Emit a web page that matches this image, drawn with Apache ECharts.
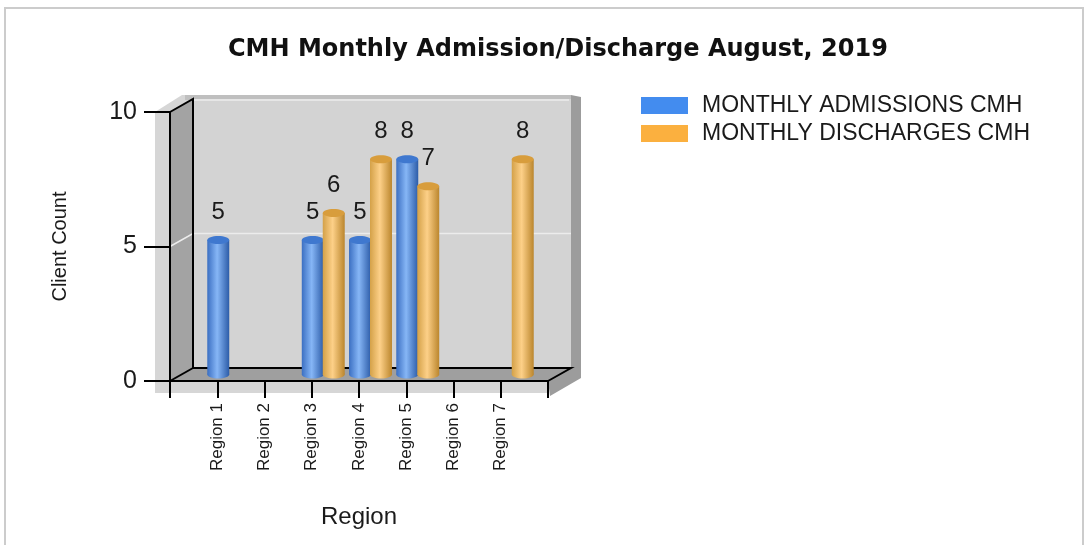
<!DOCTYPE html>
<html lang="en">
<head>
<meta charset="UTF-8">
<title>CMH Monthly Admission/Discharge</title>
<style type="text/css">
body,html{margin:0;padding:0;background:#fff;}
#container{width:1087px;height:545px;}
</style>
</head>
<body>
<div id="container"></div>
<script src="https://cdn.jsdelivr.net/npm/echarts@6/dist/echarts.min.js"></script>
<script type="text/javascript">
var regions = ['Region 1', 'Region 2', 'Region 3', 'Region 4', 'Region 5', 'Region 6', 'Region 7'];
var admissions = [5, 0, 5, 5, 8, 0, 0];
var discharges = [0, 0, 6, 8, 7, 0, 8];
var yTicks = [0, 5, 10];
var seriesNames = ['MONTHLY ADMISSIONS CMH', 'MONTHLY DISCHARGES CMH'];

// front plane of the 3d box, and its depth
var FL = 170, FR = 548, FT = 112, FB = 381;
var DX = 23, DY = -13;
var Y5F = (FT + FB) / 2, Y5B = Y5F + DY;
var font = 'Arial, "Liberation Sans", sans-serif';

// cylinder bar, side -1 = left of the category, +1 = right
function cylinder(colors, side) {
	return function (params, api) {
		var v = api.value(1);
		if (!v) return;
		var x = api.value(0);
		var top = api.coord([x, v]);
		var base = api.coord([x, 0]);
		var unit = api.size([1, 0])[0];
		var w = unit * 0.465;
		var cx = top[0] + side * unit * 0.222;
		var grad = new echarts.graphic.LinearGradient(0, 0, 1, 0, [
			{offset: 0, color: colors[0]},
			{offset: 0.45, color: colors[1]},
			{offset: 1, color: colors[2]}
		]);
		return {
			type: 'group',
			children: [
				{type: 'ellipse', shape: {cx: cx, cy: base[1], rx: w / 2, ry: 4}, style: {fill: grad}},
				{type: 'rect', shape: {x: cx - w / 2, y: top[1], width: w, height: base[1] - top[1]}, style: {fill: grad}},
				{type: 'ellipse', shape: {cx: cx, cy: top[1], rx: w / 2, ry: 4}, style: {fill: colors[3]}},
				{type: 'text', x: cx, y: top[1] - 28, style: {text: String(v), fill: '#1a1a1a', font: '24px ' + font, align: 'center', verticalAlign: 'middle'}}
			]
		};
	};
}

function pairs(arr) {
	return arr.map(function (v, i) { return [i + 1, v]; });
}

var line = {stroke: '#000', lineWidth: 2};
var option = {
	animation: false,
	backgroundColor: '#fff',
	title: {
		text: 'CMH Monthly Admission/Discharge August, 2019',
		left: 223,
		top: 33,
		textStyle: {fontFamily: 'DejaVu Sans', fontSize: 24, fontWeight: 'bold', color: '#111'}
	},
	legend: {
		orient: 'vertical',
		left: 636,
		top: 89,
		itemWidth: 47,
		itemHeight: 17,
		itemGap: 5,
		icon: 'rect',
		data: seriesNames,
		itemStyle: {borderWidth: 0},
		textStyle: {fontSize: 23, fontFamily: font, color: '#1a1a1a', padding: [0, 0, 0, 9]}
	},
	grid: [
		{left: FL, top: FT, width: FR - FL, height: FB - FT, outerBoundsMode: 'none'},
		{left: FL + DX / 2, top: FT + DY / 2, width: FR - FL, height: FB - FT, outerBoundsMode: 'none'}
	],
	xAxis: [{
		gridIndex: 0, type: 'value', min: 0, max: regions.length + 1, interval: 1, z: 5,
		axisLine: {show: true, onZero: false, lineStyle: {color: '#000', width: 2}},
		axisTick: {show: true, length: 17, lineStyle: {color: '#000', width: 2}},
		axisLabel: {
			rotate: 90, margin: 22, fontSize: 17, fontFamily: font, color: '#1a1a1a',
			formatter: function (v) { return regions[v - 1] || ''; }
		},
		splitLine: {show: false},
		name: 'Region', nameLocation: 'middle', nameGap: 124,
		nameTextStyle: {fontSize: 24, fontFamily: font, color: '#1a1a1a'}
	}, {
		gridIndex: 1, type: 'value', min: 0, max: regions.length + 1, show: false
	}],
	yAxis: [{
		gridIndex: 0, type: 'value', min: yTicks[0], max: yTicks[yTicks.length - 1], interval: yTicks[1] - yTicks[0], z: 5,
		axisLine: {show: true, lineStyle: {color: '#000', width: 2}},
		axisTick: {show: true, length: 26, lineStyle: {color: '#000', width: 2}},
		axisLabel: {margin: 33, fontSize: 25, fontFamily: font, color: '#1a1a1a'},
		splitLine: {show: false},
		name: 'Client Count', nameLocation: 'middle', nameGap: 100, nameRotate: 90,
		nameTextStyle: {fontSize: 20, fontFamily: font, color: '#1a1a1a'}
	}, {
		gridIndex: 1, type: 'value', min: yTicks[0], max: yTicks[yTicks.length - 1], show: false
	}],
	graphic: [
		{type: 'rect', z: 0, shape: {x: 5, y: 8, width: 1078, height: 560}, style: {fill: 'transparent', stroke: '#cccccc', lineWidth: 2}},
		// outer panel
		{type: 'polygon', z: 0, shape: {points: [[155, FT], [182, 95], [FR + DX, 95], [FR + DX, FB + DY], [FR, FB], [FR, 393], [155, 393]]}, style: {fill: '#d6d6d6'}},
		{type: 'rect', z: 0, shape: {x: FL + DX - 8, y: 95, width: FR - FL + 8, height: 5}, style: {fill: '#bfbfbf'}},
		// back wall
		{type: 'rect', z: 0, shape: {x: FL + DX, y: FT + DY, width: FR - FL, height: FB - FT}, style: {fill: '#d3d3d3'}},
		{type: 'line', z: 0, shape: {x1: FL + DX, y1: FT + DY + 1, x2: FR + DX - 2, y2: FT + DY + 1}, style: {stroke: '#e6e6e6', lineWidth: 2}},
		// left wall, floor, right shade
		{type: 'polygon', z: 0, shape: {points: [[FL, FT], [FL + DX, FT + DY], [FL + DX, FB + DY], [FL, FB]]}, style: {fill: '#a3a3a3'}},
		{type: 'polygon', z: 0, shape: {points: [[FL, FB], [FL + DX, FB + DY], [FR + DX, FB + DY], [FR, FB]]}, style: {fill: '#9f9f9f'}},
		{type: 'polygon', z: 0, shape: {points: [[FR + DX, 95], [FR + DX + 10, 97], [FR + DX + 10, FB - 3], [FR + 2, 396], [FR, FB], [FR + DX, FB + DY]]}, style: {fill: '#9c9c9c'}},
		// gridline at 5
		{type: 'polyline', z: 0, shape: {points: [[FL, Y5F], [FL + DX, Y5B], [FR + DX, Y5B]]}, style: {stroke: '#ececec', lineWidth: 1.5, fill: null}},
		// box edges
		{type: 'polyline', z: 1, shape: {points: [[FL, FT], [FL + DX, FT + DY], [FL + DX, FB + DY], [FR + DX, FB + DY], [FR, FB]]}, style: {stroke: '#000', lineWidth: 2, fill: null}},
		{type: 'line', z: 1, shape: {x1: FL, y1: FB, x2: FL + DX, y2: FB + DY}, style: line}
	],
	series: [{
		name: seriesNames[0],
		type: 'custom',
		xAxisIndex: 1, yAxisIndex: 1, z: 3,
		itemStyle: {color: '#438cef'},
		renderItem: cylinder(['#3b6fc2', '#86b6f6', '#2c5ca8', '#3f78cf'], -1),
		data: pairs(admissions)
	}, {
		name: seriesNames[1],
		type: 'custom',
		xAxisIndex: 1, yAxisIndex: 1, z: 3,
		itemStyle: {color: '#fbb03f'},
		renderItem: cylinder(['#d4a148', '#fdd088', '#bb862d', '#d89d3c'], 1),
		data: pairs(discharges)
	}]
};
var chart = echarts.init(document.getElementById('container'));
chart.setOption(option);
</script>
</body>
</html>
